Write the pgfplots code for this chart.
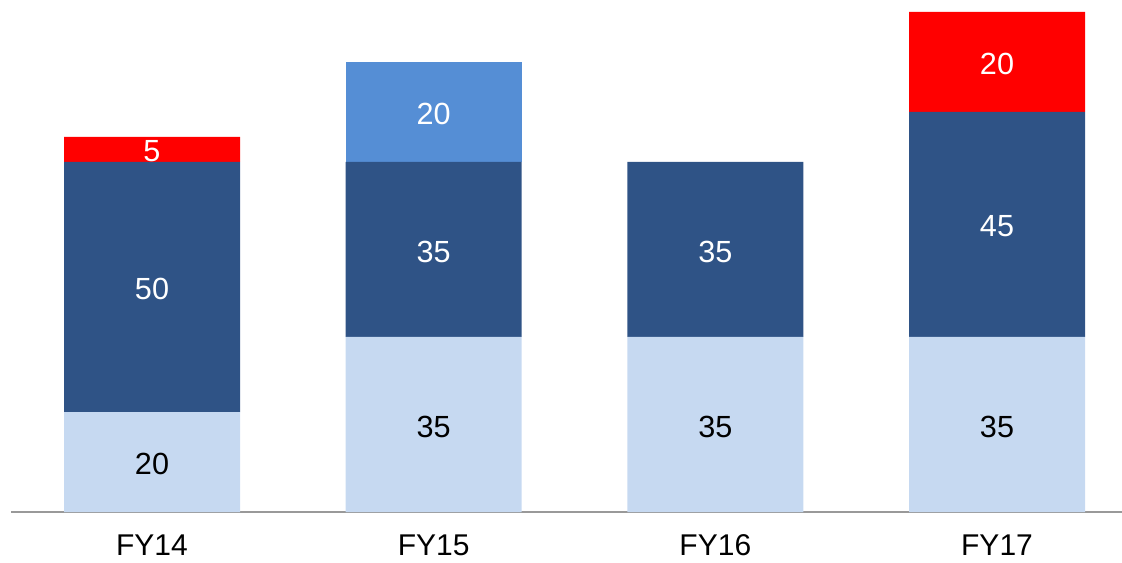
\documentclass[border=0pt]{standalone}
\usepackage{pgfplots}
\pgfplotsset{compat=1.18}
\usepackage{fontspec}
\setmainfont{Liberation Sans}
\definecolor{lightb}{HTML}{C6D9F1}
\definecolor{darkb}{HTML}{2F5386}
\definecolor{midb}{HTML}{558ED5}
\definecolor{redb}{HTML}{FF0000}
\definecolor{axgray}{HTML}{999999}
\begin{document}
\begin{tikzpicture}
\useasboundingbox (-5.5pt,-25pt) rectangle (555.5pt,256pt);
\begin{axis}[
  scale only axis, width=555.5pt, height=250pt,
  xmin=-0.5006, xmax=3.4438, ymin=0, ymax=100,
  ybar stacked, bar width=88pt,
  axis x line*=bottom, axis y line=none,
  x axis line style={draw=axgray, line width=1pt},
  xtick={0,1,2,3}, xticklabels={FY14,FY15,FY16,FY17},
  major tick length=0pt,
  xticklabel style={anchor=base, inner sep=0pt, yshift=-21.6pt, font=\fontsize{15}{18}\selectfont},
  visualization depends on=rawy\as\rawy,
  nodes near coords={\ifdim\rawy pt>0.5pt\relax\pgfmathprintnumber[assume math mode=true]{\rawy}\fi},
  every node near coord/.append style={anchor=center, yshift=-1pt, font=\fontsize{15.3}{18}\selectfont},
  clip=false,
]
\addplot[fill=lightb, draw=none, every node near coord/.append style={text=black}] coordinates {(0,20) (1,35) (2,35) (3,35)};
\addplot[fill=darkb, draw=none, every node near coord/.append style={text=white}] coordinates {(0,50) (1,35) (2,35) (3,45)};
\addplot[fill=midb, draw=none, every node near coord/.append style={text=white}] coordinates {(0,0) (1,20) (2,0) (3,0)};
\addplot[fill=redb, draw=none, every node near coord/.append style={text=white}] coordinates {(0,5) (1,0) (2,0) (3,20)};
\end{axis}
\end{tikzpicture}
\end{document}
